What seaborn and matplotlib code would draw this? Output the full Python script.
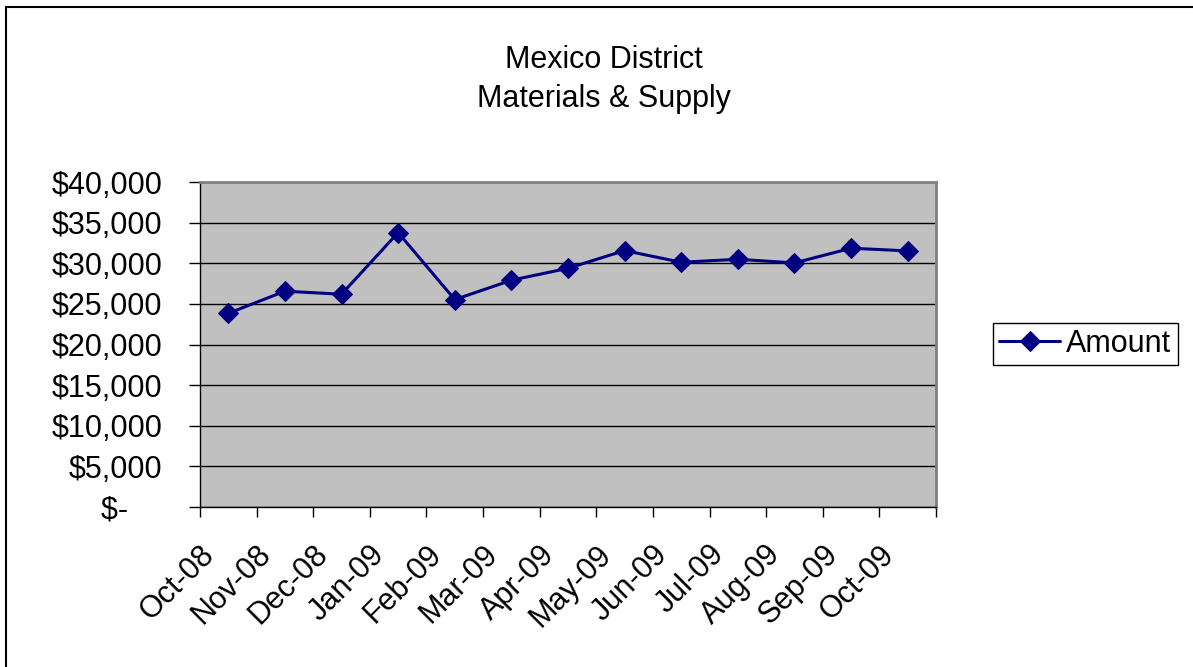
import matplotlib
matplotlib.use("Agg")
import matplotlib.pyplot as plt
from matplotlib.patches import Rectangle
from matplotlib.ticker import FixedLocator, FuncFormatter
from matplotlib.transforms import ScaledTranslation
import seaborn as sns
import pandas as pd

months = ["Oct-08", "Nov-08", "Dec-08", "Jan-09", "Feb-09", "Mar-09", "Apr-09",
          "May-09", "Jun-09", "Jul-09", "Aug-09", "Sep-09", "Oct-09"]
amounts = [23840, 26560, 26190, 33770, 25530, 27910, 29380,
           31560, 30120, 30490, 30040, 31850, 31520]
y_ticks = [0, 5000, 10000, 15000, 20000, 25000, 30000, 35000, 40000]
title_lines = ["Mexico District", "Materials & Supply"]
series_name = "Amount"

sns.set_theme(style="white")
plt.rcParams["font.family"] = ["Liberation Sans", "DejaVu Sans"]
for key in ("text.color", "axes.labelcolor", "xtick.color", "ytick.color"):
    plt.rcParams[key] = "black"

FS = 22
W, H = 1193, 667
fig = plt.figure(figsize=(W / 100, H / 100), dpi=100)
fig.patch.set_facecolor("white")
ax = fig.add_axes([200 / W, 1 - 507 / H, (936 - 200) / W, (507 - 182) / H])
ax.set_facecolor("#C0C0C0")

df = pd.DataFrame({"Month": months, series_name: amounts})
sns.lineplot(data=df, x="Month", y=series_name, sort=False, ax=ax,
             color="#000080", linewidth=2.2, marker="D", markersize=10,
             markeredgecolor="#000080", markerfacecolor="#000080",
             label=series_name)

# y axis: currency labels in accounting style
def money(v, pos):
    if v == 0:
        return "\\$-    "
    return "\\${:,.0f}".format(v)

ax.set_ylim(0, 40000)
ax.yaxis.set_major_locator(FixedLocator(y_ticks))
ax.yaxis.set_major_formatter(FuncFormatter(money))
ax.yaxis.grid(True, color="black", linewidth=1)
ax.set_axisbelow(True)
ax.tick_params(axis="y", which="major", direction="out", length=8, width=1,
               color="black", pad=19, labelsize=FS, labelcolor="black", left=True)

# x axis: labels on category centres, ticks on category boundaries
ax.set_xlim(-0.5, len(months) - 0.5)
ax.set_xticks(range(len(months)))
ax.set_xticklabels(months, rotation=45, ha="right", va="center",
                   rotation_mode="anchor")
ax.set_xticks([i - 0.5 for i in range(len(months) + 1)], minor=True)
ax.tick_params(axis="x", which="major", length=0, pad=31, labelsize=FS,
               labelcolor="black")
ax.tick_params(axis="x", which="minor", direction="out", length=7, width=1,
               color="black", bottom=True)
ax.set_xlabel("")
ax.set_ylabel("")
shift = ScaledTranslation(-18 / 100, 0, fig.dpi_scale_trans)
for lbl in ax.get_xticklabels():
    lbl.set_transform(lbl.get_transform() + shift)

for side in ("top", "right"):
    ax.spines[side].set_color("#808080")
    ax.spines[side].set_linewidth(2)
for side in ("left", "bottom"):
    ax.spines[side].set_color("black")
    ax.spines[side].set_linewidth(1)

leg = ax.legend(loc="center left", bbox_to_anchor=(993 / W, 1 - 344 / H),
                bbox_transform=fig.transFigure, frameon=True, fancybox=False,
                fontsize=FS, handlelength=2.0, handletextpad=0.2,
                borderpad=0.2, borderaxespad=0)
leg.get_frame().set_edgecolor("black")
leg.get_frame().set_linewidth(1)
leg.get_frame().set_facecolor("white")
leg.get_frame().set_alpha(1)
for t in leg.get_texts():
    t.set_color("black")

fig.text(604 / W, 1 - 45 / H, "\n".join(title_lines), ha="center", va="top",
         fontsize=FS, linespacing=1.38, color="black")

# chart area outline
fig.add_artist(Rectangle((6 / W, -0.2), 1.5, 1.2 - 7 / H, transform=fig.transFigure,
                         fill=False, edgecolor="black", linewidth=1.5,
                         clip_on=False))

fig.savefig("out.png", dpi=100)
